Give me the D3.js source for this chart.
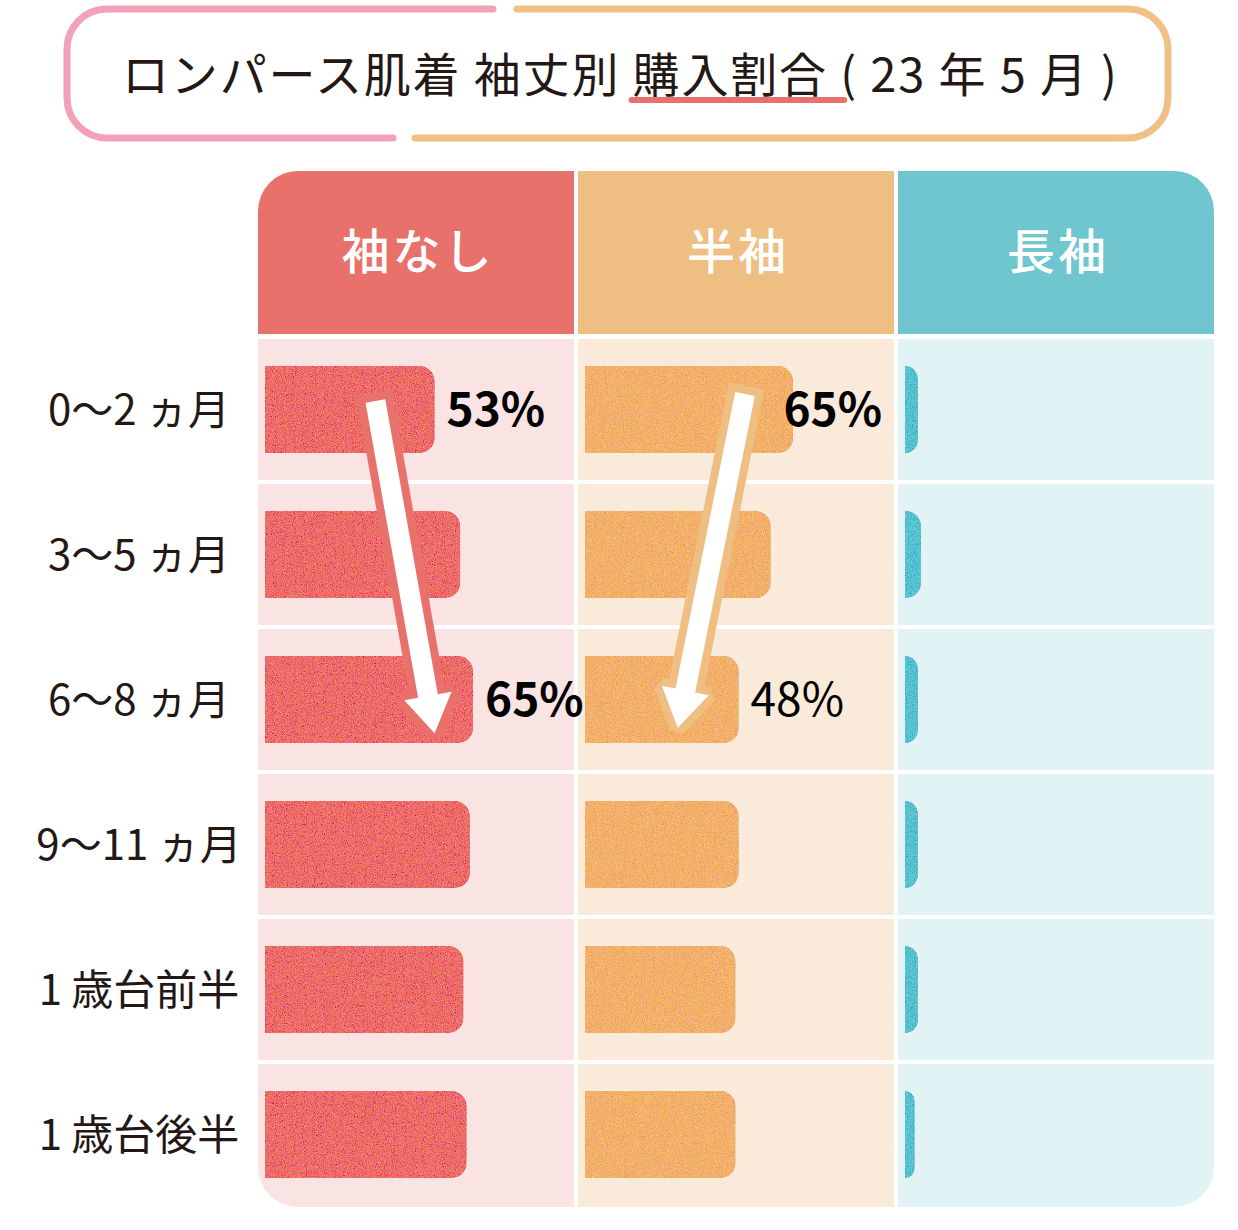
<!DOCTYPE html>
<html lang="ja">
<head>
<meta charset="utf-8">
<script src="https://cdn.jsdelivr.net/npm/d3@7"></script>
<style>
  html, body { margin: 0; padding: 0; background: #fff; }
  svg { display: block; font-family: "Noto Sans CJK JP", "Noto Sans", sans-serif; }
</style>
</head>
<body>
<div id="chart"></div>
<script>
const titleText = 'ロンパース肌着 袖丈別 購入割合 ( 23 年 5 月 )';
const underlined = '購入割合';
const series = ['袖なし', '半袖', '長袖'];
const rows = ['0～2 ヵ月', '3～5 ヵ月', '6～8 ヵ月', '9～11 ヵ月', '1 歳台前半', '1 歳台後半'];
const sleevelessValues = [53, 61, 65, 64, 62, 63];
const shortSleeveValues = [65, 58, 48, 48, 47, 47];
const longSleeveValues = [4, 5, 4, 4, 4, 3];
// only these cells carry a % label
const labeledRows = ['0～2 ヵ月', '6～8 ヵ月'];
const labeledSeries = ['袖なし', '半袖'];
// trend arrows, from the first labeled row to the second one (in %)
const arrowStart = [34.5, 50];
const arrowEnd = [53, 29];

const headColors = ['#E9716C', '#EFBE82', '#6FC6CE'];
const cellColors = ['#FAE3E3', '#FAEADA', '#E1F3F5'];
const barColors = ['#EC6C6A', '#F2AF6C', '#58C0CF'];
const ink = '#231815';

const W = 1238, H = 1230;
const svg = d3.select('#chart').append('svg')
  .attr('width', W)
  .attr('height', H);

const defs = svg.append('defs');

// grainy texture for the bars
const grain = defs.append('filter').attr('id', 'grain')
  .attr('x', 0).attr('y', 0).attr('width', 1).attr('height', 1);
grain.append('feTurbulence')
  .attr('type', 'fractalNoise').attr('baseFrequency', 1.1)
  .attr('numOctaves', 2).attr('seed', 7).attr('result', 'noise');
grain.append('feColorMatrix')
  .attr('in', 'noise').attr('type', 'matrix')
  .attr('values', '1 0 0 0 0  0 1 0 0 0  0 0 1 0 0  0 0 0 0 1')
  .attr('result', 'cnoise');
grain.append('feComposite')
  .attr('in', 'SourceGraphic').attr('in2', 'cnoise')
  .attr('operator', 'arithmetic')
  .attr('k1', 0).attr('k2', 1).attr('k3', 0.55).attr('k4', -0.27)
  .attr('result', 'mix');
grain.append('feComposite')
  .attr('in', 'mix').attr('in2', 'SourceGraphic').attr('operator', 'in');

// ---- title box
const box = { x0: 67, x1: 1168, y0: 9, y1: 138, r: 40 };
svg.append('path')
  .attr('d', `M493,${box.y0}H${box.x0 + box.r}A${box.r},${box.r} 0 0 0 ${box.x0},${box.y0 + box.r}`
    + `V${box.y1 - box.r}A${box.r},${box.r} 0 0 0 ${box.x0 + box.r},${box.y1}H393`)
  .attr('fill', 'none').attr('stroke', '#F2A2B6').attr('stroke-width', 7)
  .attr('stroke-linecap', 'round');
svg.append('path')
  .attr('d', `M517,${box.y0}H${box.x1 - box.r}A${box.r},${box.r} 0 0 1 ${box.x1},${box.y0 + box.r}`
    + `V${box.y1 - box.r}A${box.r},${box.r} 0 0 1 ${box.x1 - box.r},${box.y1}H415`)
  .attr('fill', 'none').attr('stroke', '#F0C087').attr('stroke-width', 7)
  .attr('stroke-linecap', 'round');

const title = svg.append('text')
  .attr('x', 122).attr('y', 92)
  .attr('font-size', 47).attr('font-weight', 400)
  .attr('fill', ink)
  .attr('textLength', 995).attr('lengthAdjust', 'spacing')
  .text(titleText);

// underline below 購入割合
const uStart = titleText.indexOf(underlined);
const uEnd = titleText.indexOf('(');
const e0 = title.node().getExtentOfChar(uStart);
const e1 = title.node().getExtentOfChar(uEnd);
svg.insert('line', 'text')
  .attr('x1', e0.x - 1).attr('x2', e1.x + 4)
  .attr('y1', 100).attr('y2', 100)
  .attr('stroke', '#E8716D').attr('stroke-width', 6)
  .attr('stroke-linecap', 'round');

// ---- table scales
const col = d3.scaleBand().domain(series).range([258, 1214]).paddingInner(4 / 320);
const row = d3.scaleBand().domain(rows).range([339, 1205]).paddingInner(4 / 145);
const x = d3.scaleLinear().domain([0, 100]).range([0, 320]);
const headTop = 171, headBottom = 334;
const barPad = 7, barH = 87;

const valuesBySeries = {
  '袖なし': sleevelessValues,
  '半袖': shortSleeveValues,
  '長袖': longSleeveValues,
};

defs.append('clipPath').attr('id', 'tableClip')
  .append('rect')
  .attr('x', col.range()[0]).attr('y', headTop)
  .attr('width', col.range()[1] - col.range()[0])
  .attr('height', 1207 - headTop)
  .attr('rx', 40);

const table = svg.append('g').attr('clip-path', 'url(#tableClip)');

// header cells
table.selectAll('rect.head')
  .data(series)
  .enter()
  .append('rect')
  .attr('class', 'head')
  .attr('x', (d) => col(d))
  .attr('y', headTop)
  .attr('width', col.bandwidth())
  .attr('height', headBottom - headTop)
  .attr('fill', (d, i) => headColors[i]);

// body cells
const cells = [];
series.forEach((s, si) => rows.forEach((r, ri) => cells.push({ s, si, r, ri, v: valuesBySeries[s][ri] })));

table.selectAll('rect.cell')
  .data(cells)
  .enter()
  .append('rect')
  .attr('class', 'cell')
  .attr('x', (d) => col(d.s))
  .attr('y', (d) => row(d.r))
  .attr('width', col.bandwidth())
  .attr('height', (d) => (d.ri === rows.length - 1 ? 1207 - row(d.r) : row.bandwidth()))
  .attr('fill', (d) => cellColors[d.si]);

// bars with rounded right end
function barPath(x0, y0, w, h, r) {
  r = Math.min(r, w, h / 2);
  return `M${x0},${y0}H${x0 + w - r}A${r},${r} 0 0 1 ${x0 + w},${y0 + r}`
    + `V${y0 + h - r}A${r},${r} 0 0 1 ${x0 + w - r},${y0 + h}H${x0}Z`;
}

svg.selectAll('path.bar')
  .data(cells)
  .enter()
  .append('path')
  .attr('class', 'bar')
  .attr('d', (d) => barPath(col(d.s) + barPad, row(d.r) + (row.bandwidth() - barH) / 2,
    x(d.v), barH, 15))
  .attr('fill', (d) => barColors[d.si])
  .attr('filter', 'url(#grain)');

// header labels
svg.selectAll('text.headLabel')
  .data(series)
  .enter()
  .append('text')
  .attr('class', 'headLabel')
  .attr('x', (d) => col(d) + col.bandwidth() / 2 + 2)
  .attr('y', 269)
  .attr('text-anchor', 'middle')
  .attr('font-size', 48)
  .attr('font-weight', 500)
  .attr('letter-spacing', 3)
  .attr('fill', '#fff')
  .text((d) => d);

// row labels
svg.selectAll('text.rowLabel')
  .data(rows)
  .enter()
  .append('text')
  .attr('class', 'rowLabel')
  .attr('x', 139)
  .attr('y', (d) => row(d) + row.bandwidth() / 2 + 15)
  .attr('text-anchor', 'middle')
  .attr('font-size', 42)
  .attr('font-weight', 400)
  .attr('fill', ink)
  .text((d) => d);

// trend arrows
function arrowPath(x1, y1, x2, y2, sw, hw, hl) {
  const len = Math.hypot(x2 - x1, y2 - y1);
  const ux = (x2 - x1) / len, uy = (y2 - y1) / len;
  const nx = -uy, ny = ux;
  const bx = x2 - ux * hl, by = y2 - uy * hl;
  const p = [
    [x1 + nx * sw / 2, y1 + ny * sw / 2],
    [bx + nx * sw / 2, by + ny * sw / 2],
    [bx + nx * hw / 2, by + ny * hw / 2],
    [x2, y2],
    [bx - nx * hw / 2, by - ny * hw / 2],
    [bx - nx * sw / 2, by - ny * sw / 2],
    [x1 - nx * sw / 2, y1 - ny * sw / 2],
  ];
  return `M${p.map((q) => q.join(',')).join('L')}Z`;
}

const arrowTailAt = [0.44, 0.39];
const arrowTipAt = [0.74, 0.70];
labeledSeries.forEach((s, i) => {
  const si = series.indexOf(s);
  const x1 = col(s) + barPad + x(arrowStart[i]);
  const y1 = row(labeledRows[0]) + row.bandwidth() * arrowTailAt[i];
  const x2 = col(s) + barPad + x(arrowEnd[i]);
  const y2 = row(labeledRows[1]) + row.bandwidth() * arrowTipAt[i];
  svg.append('path')
    .attr('d', arrowPath(x1, y1, x2, y2, 20, 48, 38))
    .attr('fill', '#fff')
    .attr('stroke', headColors[si])
    .attr('stroke-width', 16)
    .attr('stroke-linejoin', 'miter')
    .attr('stroke-miterlimit', 1.5)
    .attr('paint-order', 'stroke');
});

// % labels (labels of the first row stay inside their column)
labeledSeries.forEach((s) => {
  const si = series.indexOf(s);
  labeledRows.forEach((r, li) => {
    const ri = rows.indexOf(r);
    const v = valuesBySeries[s][ri];
    const t = svg.append('text')
      .attr('y', row(r) + row.bandwidth() / 2 + 16)
      .attr('font-size', 46)
      .attr('font-weight', s === '半袖' && li > 0 ? 400 : 700)
      .attr('fill', '#000')
      .text(`${v}%`);
    const w = t.node().getComputedTextLength();
    const colRight = col(s) + col.bandwidth();
    let left = col(s) + barPad + x(v) + 12;
    if (li === 0) left = Math.min(left, colRight - 12 - w);
    t.attr('x', left);
  });
});
</script>
</body>
</html>
